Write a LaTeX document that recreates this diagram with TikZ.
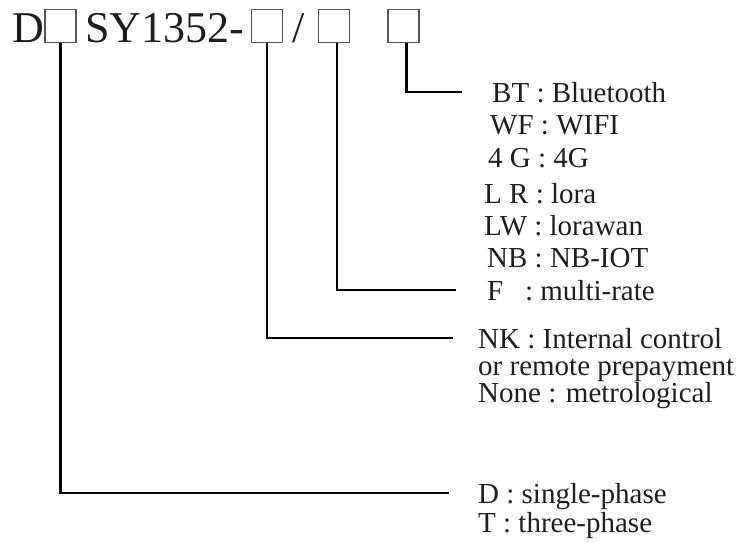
\documentclass[tikz,border=0pt]{standalone}
\usepackage{fontspec}
\setmainfont{Liberation Serif}
\usetikzlibrary{positioning}
\definecolor{inkgrey}{RGB}{30,30,30}
\definecolor{boxgrey}{RGB}{85,85,85}
\tikzset{
  code text/.style={
    inner sep=0pt, anchor=base west, text=inkgrey,
    font=\fontsize{44}{44}\selectfont
  },
  code box/.style={
    rectangle, draw=boxgrey, line width=1.3pt, inner sep=0pt,
    minimum width=31pt, minimum height=33pt
  },
  option label/.style={
    inner sep=0pt, anchor=base west, text=inkgrey,
    text height=20pt, text depth=0pt,
    font=\fontsize{29}{29}\selectfont
  },
  option line/.style={line width=2.6pt, black}
}

\begin{document}
\begin{tikzpicture}[x=1pt, y=-1pt]
    \useasboundingbox (0,0) rectangle (750,542);
    % model code
    \node[code text] (prefix) at (12,42) {D};
    \node[code box] (typebox) at (60.5,26) {};
    \node[code text] (series) at (85,42) {SY1352-};
    \node[code box] (controlbox) at (267,26) {};
    \node[code text] (slash) at (292,42) {/};
    \node[code box] (ratebox) at (334,26) {};
    \node[code box] (commbox) at (403.5,26) {};
    % communication options
    \node[option label] (bluetooth) at (492,102) {BT : Bluetooth};
    \node[option label] (wifi) at (490,134) {WF : WIFI};
    \node[option label] (fourg) at (488,167) {4 G : 4G};
    \node[option label] (lora) at (484,203) {L R : lora};
    \node[option label] (lorawan) at (484,235) {LW : lorawan};
    \node[option label] (nbiot) at (487,267) {NB : NB-IOT};
    \node[option label] (multirate) at (487,300) {F~~~: multi-rate};
    % control options
    \node[option label] (internal) at (478,348) {NK : Internal control};
    \node[option label] (remote) at (478,375) {or remote prepayment};
    \node[option label] (metro) at (478,402) {None : metrological};
    % phase options
    \node[option label] (single) at (478,503) {D : single-phase};
    \node[option label] (three) at (478,532) {T : three-phase};
    \draw[option line, shorten >=29pt] (typebox.south) |- (single.west);
    \draw[option line, shorten >=25pt] (controlbox.south) |- (internal.west);
    \draw[option line, shorten >=31pt] ([xshift=3pt]ratebox.south) |- (multirate.west);
    \draw[option line, shorten >=30pt] ([xshift=3pt]commbox.south) |- (bluetooth.west);
  \end{tikzpicture}
\end{document}
